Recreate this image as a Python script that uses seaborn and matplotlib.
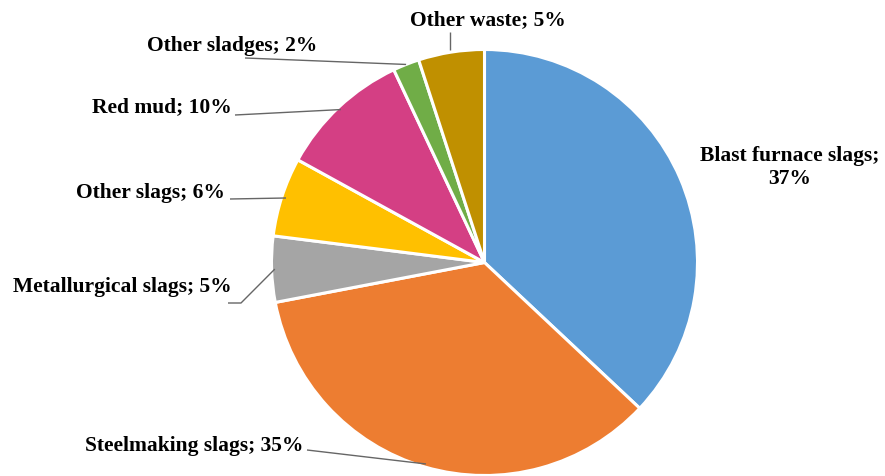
import numpy as np
import matplotlib
matplotlib.use("Agg")
import matplotlib.pyplot as plt
import seaborn as sns

categories = ["Blast furnace slags", "Steelmaking slags", "Metallurgical slags",
              "Other slags", "Red mud", "Other sladges", "Other waste"]
values = [37, 35, 5, 6, 10, 2, 5]
colors = ["#5B9BD5", "#ED7D31", "#A5A5A5", "#FFC000", "#D43F84", "#70AD47", "#C09000"]

sns.set_theme(style="white")
plt.rcParams['font.family'] = ['Liberation Serif', 'DejaVu Serif']

W, H = 885, 477
fig = plt.figure(figsize=(W / 100, H / 100), dpi=100)
ax = fig.add_axes([0, 0, 1, 1])

cx, cy, r = 484.5, H - 263.5, 213.0
wedges, _ = ax.pie(values, colors=colors, startangle=90, counterclock=False,
                   center=(cx, cy), radius=r, frame=True,
                   wedgeprops=dict(edgecolor='white', linewidth=2.2))
ax.set_xlim(0, W)
ax.set_ylim(0, H)
ax.set_aspect('equal')
ax.axis('off')

def edge_pt(w, frac=1.0):
    a = np.deg2rad((w.theta1 + w.theta2) / 2)
    return cx + r * frac * np.cos(a), cy + r * frac * np.sin(a)

line_kw = dict(color='#666666', lw=1.0, solid_capstyle='butt')
fs = 15.5
tkw = dict(fontsize=fs, fontweight='bold', color='black')

def Y(y):
    return H - y

# Blast furnace
ax.text(790, Y(167), f"{categories[0]};\n{values[0]}%", ha='center', va='center',
        linespacing=1.2, **tkw)
# Steelmaking
ax.text(85, Y(446), f"{categories[1]}; {values[1]}%", ha='left', va='center', **tkw)
ex, ey = edge_pt(wedges[1], 0.985)
ax.plot([307, ex], [Y(451), ey], **line_kw)
# Metallurgical
ax.text(232, Y(287), f"{categories[2]}; {values[2]}%", ha='right', va='center', **tkw)
ex, ey = edge_pt(wedges[2], 0.985)
ax.plot([228, 241, ex], [Y(304), Y(304), ey], **line_kw)
# Other slags
ax.text(225, Y(193), f"{categories[3]}; {values[3]}%", ha='right', va='center', **tkw)
ex, ey = edge_pt(wedges[3], 0.98)
ax.plot([230, ex], [Y(200), ey], **line_kw)
# Red mud
ax.text(232, Y(107), f"{categories[4]}; {values[4]}%", ha='right', va='center', **tkw)
ex, ey = edge_pt(wedges[4], 0.985)
ax.plot([235, ex], [Y(116), ey], **line_kw)
# Other sladges
ax.text(232, Y(46), f"{categories[5]}; {values[5]}%", ha='center', va='center', **tkw)
ex, ey = edge_pt(wedges[5], 1.0)
ax.plot([245, ex], [Y(59), ey], **line_kw)
# Other waste
ax.text(488, Y(20), f"{categories[6]}; {values[6]}%", ha='center', va='center', **tkw)
ex, ey = edge_pt(wedges[6], 1.01)
ax.plot([450, 450], [Y(33), ey], **line_kw)

fig.savefig("out.png", dpi=100, facecolor='white')
